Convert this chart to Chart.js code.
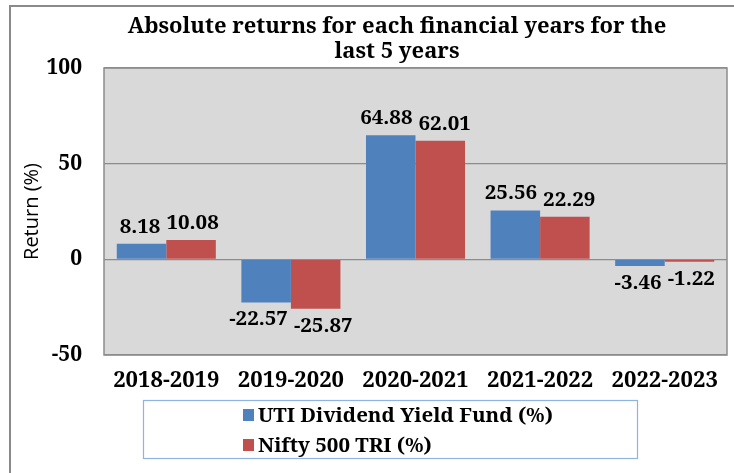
<!DOCTYPE html>
<html>
<head>
<meta charset="utf-8">
<script src="https://cdn.jsdelivr.net/npm/chart.js@4.4.1/dist/chart.umd.min.js"></script>
<style>
html,body{margin:0;padding:0;background:#fff;}
canvas{display:block;}
</style>
</head>
<body>
<canvas id="c" width="734" height="473"></canvas>
<script>
const titleLines = ['Absolute returns for each financial years for the', 'last 5 years'];
const categories = ['2018-2019', '2019-2020', '2020-2021', '2021-2022', '2022-2023'];
const seriesNames = ['UTI Dividend Yield Fund (%)', 'Nifty 500 TRI (%)'];
const utiValues = [8.18, -22.57, 64.88, 25.56, -3.46];
const niftyValues = [10.08, -25.87, 62.01, 22.29, -1.22];
const yTicks = [-50, 0, 50, 100];
const yAxisTitle = 'Return (%)';

const SERIF = '"Noto Serif", "DejaVu Serif", serif';

const bgPlugin = {
  id: 'bg',
  beforeDraw(chart) {
    const {ctx, chartArea: a} = chart;
    ctx.save();
    ctx.strokeStyle = '#8a8a8a';
    ctx.lineWidth = 2;
    ctx.beginPath();
    ctx.moveTo(10, 480);
    ctx.lineTo(10, 6);
    ctx.lineTo(740, 6);
    ctx.stroke();
    ctx.fillStyle = '#d9d9d9';
    ctx.fillRect(a.left, a.top, a.right - a.left, a.bottom - a.top);
    ctx.restore();
  },
  afterDraw(chart) {
    const {ctx, chartArea: a} = chart;
    ctx.save();
    ctx.strokeStyle = '#8c8c8c';
    ctx.lineWidth = 1.5;
    ctx.strokeRect(a.left, a.top, a.right - a.left, a.bottom - a.top);
    // title
    ctx.fillStyle = '#000';
    ctx.font = 'bold 22px ' + SERIF;
    ctx.textAlign = 'center';
    ctx.textBaseline = 'middle';
    titleLines.forEach((t, i) => ctx.fillText(t, 397, 27 + i * 25));
    // y axis title
    ctx.save();
    ctx.translate(32, (a.top + a.bottom) / 2);
    ctx.rotate(-Math.PI / 2);
    ctx.font = '20px "Open Sans", "Liberation Sans", sans-serif';
    ctx.fillText(yAxisTitle, 0, 0);
    ctx.restore();
    // legend box
    ctx.strokeStyle = '#8eb4e3';
    ctx.lineWidth = 1.2;
    ctx.strokeRect(143.5, 400.5, 494, 58);
    ctx.font = 'bold 20.5px ' + SERIF;
    ctx.textAlign = 'left';
    chart.data.datasets.forEach((ds, i) => {
      const y = 415 + i * 30;
      ctx.fillStyle = ds.backgroundColor;
      ctx.fillRect(243, y - 6, 11, 12);
      ctx.fillStyle = '#000';
      ctx.fillText(ds.label, 258, y + 1);
    });
    ctx.restore();
  }
};

const labelPlugin = {
  id: 'vals',
  afterDatasetsDraw(chart) {
    const {ctx} = chart;
    ctx.save();
    ctx.font = 'bold 20.5px ' + SERIF;
    ctx.fillStyle = '#000';
    ctx.textAlign = 'center';
    ctx.textBaseline = 'middle';
    const n = chart.data.labels.length;
    const metas = chart.data.datasets.map((ds, di) => chart.getDatasetMeta(di));
    for (let i = 0; i < n; i++) {
      const items = chart.data.datasets.map((ds, di) => {
        const v = ds.data[i];
        const bar = metas[di].data[i];
        const text = v.toFixed(2);
        return {text, x: bar.x, y: v >= 0 ? bar.y - 17 : bar.y + 17, w: ctx.measureText(text).width};
      });
      // simple collision avoidance between neighbouring labels
      for (let k = 0; k + 1 < items.length; k++) {
        const p = items[k], q = items[k + 1];
        const need = (p.w + q.w) / 2 + 6;
        const gap = q.x - p.x;
        if (gap < need && Math.abs(p.y - q.y) < 22) {
          const d = (need - gap) / 2;
          p.x -= d; q.x += d;
        }
      }
      items.forEach(it => ctx.fillText(it.text, it.x, it.y));
    }
    ctx.restore();
  }
};

new Chart(document.getElementById('c'), {
  type: 'bar',
  data: {
    labels: categories,
    datasets: [
      {label: seriesNames[0], data: utiValues, backgroundColor: '#4f81bd', categoryPercentage: 0.795, barPercentage: 1.0},
      {label: seriesNames[1], data: niftyValues, backgroundColor: '#c0504d', categoryPercentage: 0.795, barPercentage: 1.0}
    ]
  },
  options: {
    responsive: false,
    animation: false,
    layout: {padding: {left: 14, right: 7, top: 68, bottom: 0}},
    plugins: {
      legend: {display: false},
      title: {display: false},
      tooltip: {enabled: false}
    },
    scales: {
      x: {
        grid: {display: false, drawTicks: false},
        border: {display: false},
        ticks: {color: '#000', font: {family: SERIF, size: 22, weight: 'bold'}, padding: 13, maxRotation: 0},
        afterFit(s) { s.height = 118; }
      },
      y: {
        min: yTicks[0],
        max: yTicks[yTicks.length - 1],
        afterBuildTicks(s) { s.ticks = yTicks.map(v => ({value: v})); },
        grid: {color: '#8c8c8c', lineWidth: 1.2, drawTicks: false},
        border: {display: false},
        ticks: {color: '#000', font: {family: SERIF, size: 21, weight: 'bold'}, padding: 22},
        afterFit(s) { s.width = 90; }
      }
    }
  },
  plugins: [bgPlugin, labelPlugin]
});
</script>
</body>
</html>
